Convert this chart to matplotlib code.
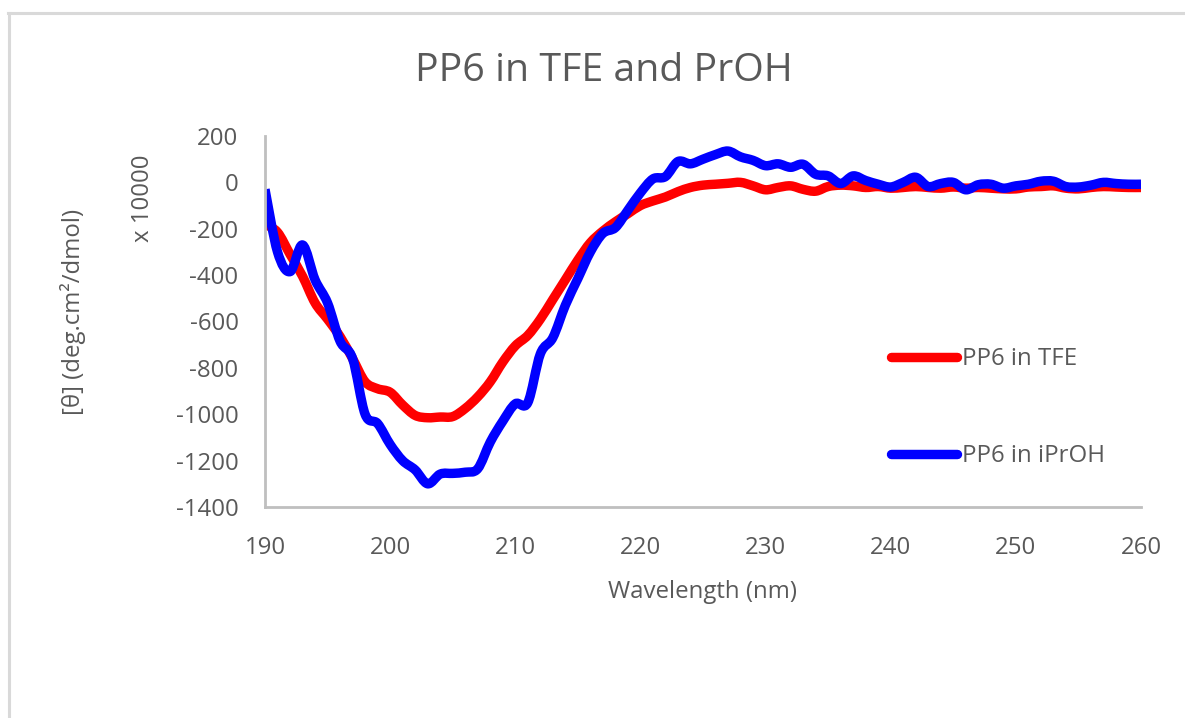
import matplotlib
matplotlib.use("Agg")
import matplotlib.pyplot as plt
from matplotlib.lines import Line2D
from matplotlib.path import Path
from matplotlib.patches import PathPatch

plt.rcParams["font.family"] = ["Open Sans", "DejaVu Sans"]

TEXT = "#595959"
AXIS = "#BFBFBF"

wavelength = list(range(190, 261))

tfe = [-180, -215, -310, -405, -520, -590, -665, -760, -860, -890,
       -905, -960, -1005, -1015, -1012, -1010, -975, -925, -860, -775,
       -705, -660, -590, -505, -420, -335, -260, -210, -170, -135,
       -100, -80, -63, -40, -22, -12, -8, -4, 0, -15,
       -32, -22, -15, -30, -38, -18, -12, -15, -22, -18,
       -25, -22, -18, -22, -25, -20, -25, -22, -25, -28,
       -28, -20, -18, -15, -25, -28, -22, -18, -20, -22,
       -22]

iproh = [-30, -300, -385, -270, -420, -520, -685, -760, -1000, -1040,
         -1130, -1200, -1240, -1300, -1258, -1255, -1250, -1235, -1120, -1030,
         -955, -950, -740, -670, -530, -415, -300, -220, -195, -120,
         -45, 15, 25, 90, 80, 100, 120, 135, 110, 95,
         72, 80, 65, 78, 35, 28, -5, 28, 8, -8,
         -20, 0, 22, -18, -5, 0, -32, -10, -8, -25,
         -15, -8, 5, 5, -18, -20, -12, 0, -5, -8,
         -8]

series_labels = ["PP6 in TFE", "PP6 in iPrOH"]
series_colors = ["#FF0000", "#0000FF"]
x_ticks = list(range(190, 261, 10))
y_ticks = list(range(-1400, 201, 200))


def smooth_path(xs, ys):
    """Smoothed line through the points (cubic Bezier, Catmull-Rom tangents)."""
    pts = list(zip(xs, ys))
    n = len(pts)
    verts = [pts[0]]
    codes = [Path.MOVETO]
    for i in range(n - 1):
        p0 = pts[max(i - 1, 0)]
        p1 = pts[i]
        p2 = pts[i + 1]
        p3 = pts[min(i + 2, n - 1)]
        c1 = (p1[0] + (p2[0] - p0[0]) / 6, p1[1] + (p2[1] - p0[1]) / 6)
        c2 = (p2[0] - (p3[0] - p1[0]) / 6, p2[1] - (p3[1] - p1[1]) / 6)
        verts += [c1, c2, p2]
        codes += [Path.CURVE4] * 3
    return Path(verts, codes)


W, H = 1185, 718
fig = plt.figure(figsize=(W / 100, H / 100), dpi=100)
fig.patch.set_facecolor("white")

# chart-area frame (top and left edges)
fig.add_artist(Line2D([8 / W, 1.0], [1 - 12.5 / H, 1 - 12.5 / H],
                      transform=fig.transFigure, color="#D9D9D9", lw=2.2))
fig.add_artist(Line2D([9 / W, 9 / W], [0.0, 1 - 12.5 / H],
                      transform=fig.transFigure, color="#D9D9D9", lw=2.2))

left, right, top, bottom = 265, 1141, 136, 507
ax = fig.add_axes([left / W, 1 - bottom / H, (right - left) / W, (bottom - top) / H])

handles = []
for vals, lab, col in zip([tfe, iproh], series_labels, series_colors):
    patch = PathPatch(smooth_path(wavelength, vals), facecolor="none",
                      edgecolor=col, lw=6.8, joinstyle="round", capstyle="butt")
    ax.add_patch(patch)
    handles.append(Line2D([], [], color=col, lw=6.8, label=lab,
                          solid_capstyle="round"))

ax.set_xlim(190, 260)
ax.set_ylim(-1400, 200)
ax.set_xticks(x_ticks)
ax.set_yticks(y_ticks)
ax.set_xticklabels([str(v) for v in x_ticks])
ax.set_yticklabels([str(v) for v in y_ticks])

for s in ["top", "right"]:
    ax.spines[s].set_visible(False)
for s in ["left", "bottom"]:
    ax.spines[s].set_color(AXIS)
    ax.spines[s].set_linewidth(2.0)

ax.tick_params(axis="both", length=0, labelsize=17.3, colors=TEXT)
ax.tick_params(axis="y", pad=19)
ax.tick_params(axis="x", pad=21)

fig.text(604 / W, 1 - 71 / H, "PP6 in TFE and PrOH", ha="center", va="center",
         fontsize=28.3, color=TEXT)
fig.text(703 / W, 1 - 592 / H, "Wavelength (nm)", ha="center", va="center",
         fontsize=17.3, color=TEXT)
fig.text(73 / W, 1 - 312 / H, "[θ] (deg.cm²/dmol)", ha="center", va="center",
         rotation=90, fontsize=17.3, color=TEXT)
fig.text(143 / W, 1 - 198 / H, "x 10000", ha="center", va="center",
         rotation=90, fontsize=17.3, color=TEXT)

leg = ax.legend(handles=handles, loc="upper left",
                bbox_to_anchor=((891 - left) / (right - left), 1 - (347 - top) / (bottom - top)),
                frameon=False, fontsize=17.3, handlelength=2.75, handletextpad=0.2,
                labelspacing=3.05, borderaxespad=0, borderpad=0)
for t in leg.get_texts():
    t.set_color(TEXT)

fig.savefig("out.png", dpi=100, facecolor="white")
